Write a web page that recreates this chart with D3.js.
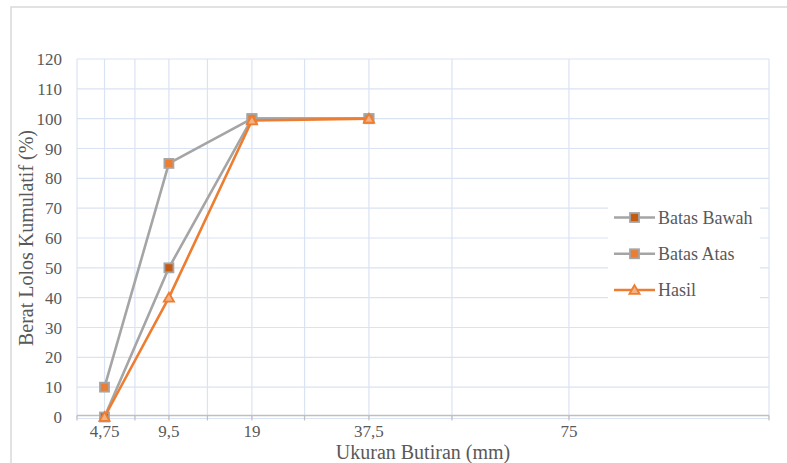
<!DOCTYPE html>
<html>
<head>
<meta charset="utf-8">
<script src="https://cdn.jsdelivr.net/npm/d3@7"></script>
<style>
  html, body { margin: 0; padding: 0; background: #fff; }
  svg { display: block; }
</style>
</head>
<body>
<svg id="chart" width="787" height="463"></svg>
<script>
// Sieve sizes (mm) shown on the horizontal axis
const sieveLabels = ["4,75", "9,5", "19", "37,5", "75"];
// Cumulative passing (%) per sieve
const batasBawah = [0, 50, 100, 100];
const batasAtas = [10, 85, 100, 100];
const hasil = [0, 40, 99.4, 100];
const yTicks = [0, 10, 20, 30, 40, 50, 60, 70, 80, 90, 100, 110, 120];

const seriesList = [
  { name: "Batas Bawah", values: batasBawah, line: "#a5a5a5", marker: "square", fill: "#c55a11", stroke: "#a5a5a5" },
  { name: "Batas Atas", values: batasAtas, line: "#a5a5a5", marker: "square", fill: "#ed7d31", stroke: "#a5a5a5" },
  { name: "Hasil", values: hasil, line: "#ed7d31", marker: "triangle", fill: "#f4b183", stroke: "#ed7d31" }
];

const serif = "'Liberation Serif', 'Times New Roman', 'DejaVu Serif', serif";
const svg = d3.select("#chart")
  .style("font-family", serif)
  .attr("font-family", serif);
const plot = { left: 77, right: 769, top: 59, bottom: 417 };

// Horizontal axis: reversed log axis over slot numbers 1..11, sieves every second slot
const nSlots = 2 * sieveLabels.length + 1;
const x = d3.scaleLog().domain([nSlots, 1]).range([plot.left, plot.right]);
const slotOf = i => 2 * (sieveLabels.length - i);
const y = d3.scaleLinear().domain([0, 120]).range([plot.bottom, plot.top]);

// Outer chart-area frame
svg.append("rect")
  .attr("x", 11).attr("y", 7).attr("width", 800).attr("height", 480)
  .attr("fill", "none").attr("stroke", "#d9d9d9").attr("stroke-width", 1.5);

// Gridlines
const grid = svg.append("g").attr("stroke", "#dae3f3").attr("stroke-width", 1.2);
grid.selectAll("line.h").data(yTicks).join("line")
  .attr("x1", plot.left).attr("x2", plot.right)
  .attr("y1", d => y(d) + (d === 0 ? 1.5 : 0)).attr("y2", d => y(d) + (d === 0 ? 1.5 : 0));
grid.selectAll("line.v").data(d3.range(1, nSlots + 1)).join("line")
  .attr("x1", d => x(d)).attr("x2", d => x(d))
  .attr("y1", plot.top).attr("y2", plot.bottom + 1.5);

// Horizontal axis line and tick marks
const axisY = plot.bottom - 1.5;
svg.append("line")
  .attr("x1", plot.left).attr("x2", plot.right)
  .attr("y1", axisY).attr("y2", axisY)
  .attr("stroke", "#bfbfbf").attr("stroke-width", 1.5);
svg.append("g").selectAll("line").data(d3.range(1, nSlots + 1)).join("line")
  .attr("x1", d => x(d)).attr("x2", d => x(d))
  .attr("y1", axisY).attr("y2", axisY + 5)
  .attr("stroke", "#bfbfbf").attr("stroke-width", 1.2);

// Tick labels
svg.append("g").selectAll("text").data(yTicks).join("text")
  .attr("x", 62).attr("y", d => y(d) + 6)
  .attr("text-anchor", "end").attr("font-size", 17).attr("fill", "#595959")
  .text(d => d);
svg.append("g").selectAll("text").data(sieveLabels).join("text")
  .attr("x", (d, i) => x(slotOf(i))).attr("y", 437)
  .attr("text-anchor", "middle").attr("font-size", 17).attr("fill", "#595959")
  .text(d => d);

// Axis titles
svg.append("text")
  .attr("x", 423).attr("y", 459)
  .attr("text-anchor", "middle").attr("font-size", 20).attr("fill", "#595959")
  .text("Ukuran Butiran (mm)");
svg.append("text")
  .attr("transform", "translate(33,238) rotate(-90)")
  .attr("text-anchor", "middle").attr("font-size", 20).attr("fill", "#595959")
  .text("Berat Lolos Kumulatif (%)");

// Marker drawing
function drawMarker(g, s, cx, cy) {
  if (s.marker === "square") {
    g.append("rect")
      .attr("x", cx - 4.5).attr("y", cy - 4.5).attr("width", 9).attr("height", 9)
      .attr("fill", s.fill).attr("stroke", s.stroke).attr("stroke-width", 1.8);
  } else {
    g.append("path")
      .attr("d", d3.symbol(d3.symbolTriangle, 45)())
      .attr("transform", `translate(${cx},${cy + 1})`)
      .attr("fill", s.fill).attr("stroke", s.stroke).attr("stroke-width", 1.8);
  }
}

// Series lines and markers
const line = d3.line().x((d, i) => x(slotOf(i))).y(d => y(d));
seriesList.forEach(s => {
  const g = svg.append("g");
  g.append("path").attr("d", line(s.values))
    .attr("fill", "none").attr("stroke", s.line).attr("stroke-width", 2.6)
    .attr("stroke-linejoin", "round");
  s.values.forEach((v, i) => drawMarker(g, s, x(slotOf(i)), y(v)));
});

// Legend
const legend = svg.append("g");
legend.append("rect")
  .attr("x", 608).attr("y", 186).attr("width", 152).attr("height", 124)
  .attr("fill", "#fff");
const legendY = d3.scalePoint().domain(seriesList.map(s => s.name)).range([217.5, 290]);
seriesList.forEach(s => {
  const cy = legendY(s.name);
  const g = legend.append("g");
  g.append("line").attr("x1", 614).attr("x2", 655).attr("y1", cy).attr("y2", cy)
    .attr("stroke", s.line).attr("stroke-width", 2.6);
  drawMarker(g, s, 634.5, cy);
  g.append("text").attr("x", 658).attr("y", cy + 6)
    .attr("font-size", 18).attr("fill", "#595959").text(s.name);
});
</script>
</body>
</html>
